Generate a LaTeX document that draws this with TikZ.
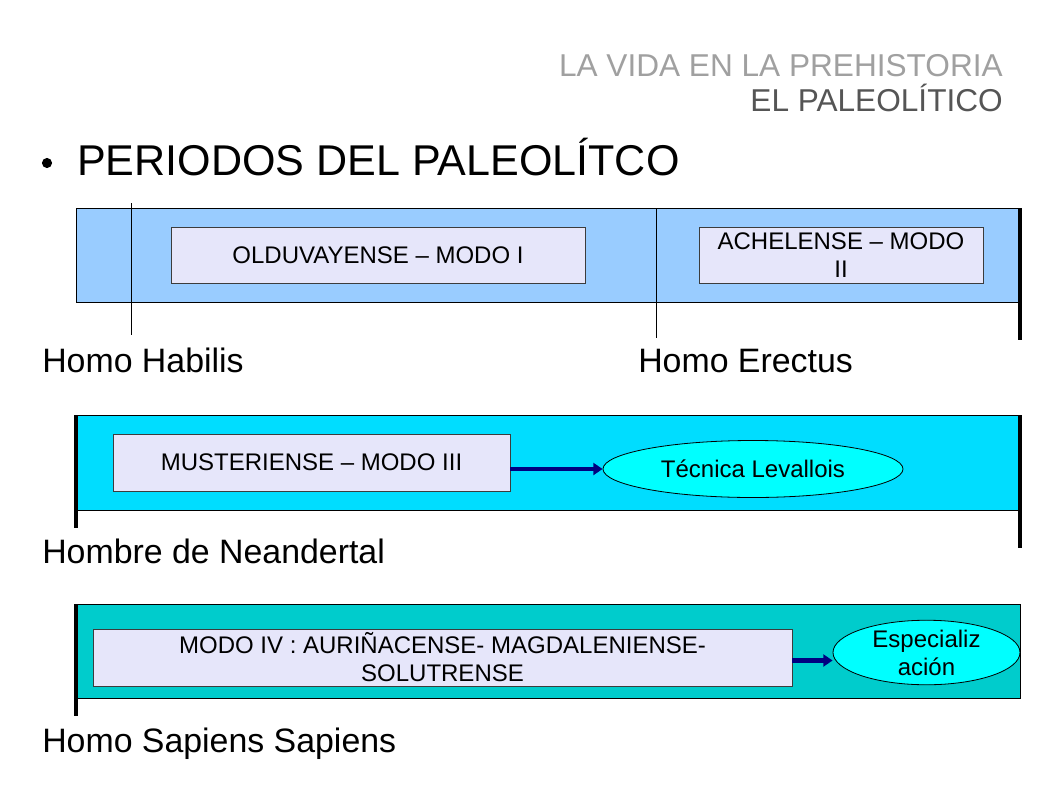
\documentclass[tikz,border=0pt]{standalone}
\usepackage{fontspec}
\setmainfont{Liberation Sans}
\usetikzlibrary{shapes.geometric,arrows.meta}
\definecolor{bandA}{RGB}{153,204,255}
\definecolor{bandB}{RGB}{0,221,255}
\definecolor{bandC}{RGB}{0,204,204}
\definecolor{boxfill}{RGB}{230,230,250}
\definecolor{boxborder}{RGB}{60,60,60}
\definecolor{ellfill}{RGB}{0,255,255}
\definecolor{navyarrow}{RGB}{0,0,128}
\definecolor{titlelight}{RGB}{160,160,160}
\definecolor{titledark}{RGB}{85,85,85}
\begin{document}
\begin{tikzpicture}[x=0.75pt,y=-0.75pt,
  box/.style={draw=boxborder, fill=boxfill, rectangle, inner sep=0pt, align=center, line width=0.6pt,
    font=\fontsize{18pt}{21pt}\selectfont},
  ell/.style={draw=black, fill=ellfill, ellipse, inner sep=0pt, align=center, line width=0.6pt,
    font=\fontsize{18pt}{21pt}\selectfont},
  band/.style={draw=black, line width=0.6pt},
  tline/.style={line width=2.4pt, black},
  fline/.style={line width=0.6pt, black},
  conn/.style={-{Triangle[length=7pt,width=9pt]}, line width=3.6pt, navyarrow},
  lbl/.style={anchor=base west, inner sep=0pt, font=\fontsize{25.4pt}{30pt}\selectfont},
  ttl/.style={anchor=base east, inner sep=0pt, font=\fontsize{23.7pt}{28pt}\selectfont}
]
\useasboundingbox[fill=white] (0,0) rectangle (1058,793);

% titles
\node[ttl, text=titlelight] (t1) at (1003,76) {LA VIDA EN LA PREHISTORIA};
\node[ttl, text=titledark] (t2) at (1003,111) {EL PALEOLÍTICO};
\fill[black] (47,163) circle[radius=3.8pt];
\node[anchor=base west, inner sep=0pt, font=\fontsize{32.3pt}{38pt}\selectfont] (head) at (77,175) {PERIODOS DEL PALEOLÍTCO};

% band 1
\filldraw[band, fill=bandA] (76,208) rectangle (1020,302);
\draw[fline] (131,203) -- (131,335);
\draw[fline] (656,208) -- (656,338);
\draw[tline] (1020,208) -- (1020,340);
\node[box, minimum width=414*0.75pt, minimum height=56*0.75pt] (old) at (378,255) {OLDUVAYENSE – MODO I};
\node[box, minimum width=284*0.75pt, minimum height=56*0.75pt] (ach) at (841,255) {ACHELENSE – MODO\\II};
\node[lbl] (hh) at (42,372) {Homo Habilis};
\node[lbl] (he) at (638,372) {Homo Erectus};

% band 2
\filldraw[band, fill=bandB] (76,415) rectangle (1020,510);
\draw[tline] (76,415) -- (76,528);
\draw[tline] (1020,415) -- (1020,548);
\node[box, minimum width=397*0.75pt, minimum height=57*0.75pt] (mus) at (311.5,462.5) {MUSTERIENSE – MODO III};
\node[ell, minimum width=300*0.75pt, minimum height=57*0.75pt] (lev) at (753,469) {Técnica Levallois};
\draw[conn] (mus.east |- lev) -- (lev.west);
\node[lbl] (hn) at (42,563) {Hombre de Neandertal};

% band 3
\filldraw[band, fill=bandC] (76,604) rectangle (1020,698);
\draw[tline] (76,604) -- (76,716);
\node[box, minimum width=699*0.75pt, minimum height=57*0.75pt] (m4) at (442.5,657.5) {MODO IV : AURIÑACENSE- MAGDALENIENSE-\\SOLUTRENSE};
\node[ell, minimum width=187*0.75pt, minimum height=56*0.75pt] (esp) at (926.5,652.5) {Especializ\\ación};
\draw[conn] ([yshift=-3*0.75pt]m4.east) -- ([yshift=-3*0.75pt]m4.east -| esp.west);
\node[lbl] (hs) at (42,752) {Homo Sapiens Sapiens};
\end{tikzpicture}
\end{document}
